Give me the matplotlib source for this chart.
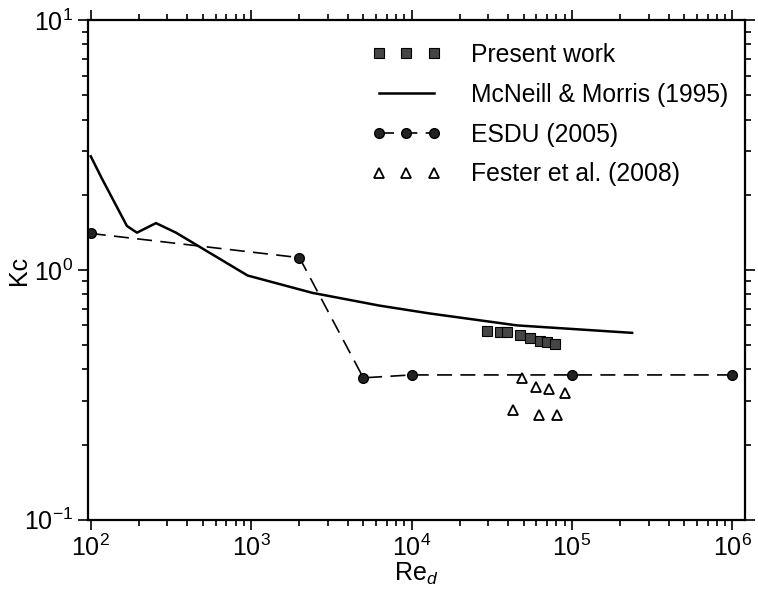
import numpy as np
import matplotlib
matplotlib.use('Agg')
import matplotlib.pyplot as plt

plt.rcParams['font.family'] = ['Liberation Sans', 'DejaVu Sans']
plt.rcParams['mathtext.fontset'] = 'custom'
plt.rcParams['mathtext.rm'] = 'Liberation Sans'
plt.rcParams['mathtext.it'] = 'Liberation Sans:italic'

# present work
re_pw = [29400, 35500, 39200, 47300, 54600, 63100, 69800, 78300]
kc_pw = [0.57, 0.565, 0.565, 0.55, 0.535, 0.52, 0.515, 0.506]

# McNeill & Morris (1995)
re_mm = [100, 117, 168, 194, 255, 340, 950, 2400, 6300, 12900, 45300, 237000]
kc_mm = [2.85, 2.33, 1.50, 1.41, 1.54, 1.41, 0.95, 0.81, 0.72, 0.67, 0.60, 0.56]

# ESDU (2005)
re_esdu = [100, 2000, 5000, 1e4, 1e5, 1e6]
kc_esdu = [1.40, 1.12, 0.37, 0.38, 0.38, 0.38]

# Fester et al. (2008)
re_fe = [49000, 59600, 71800, 90300, 42800, 62200, 80500]
kc_fe = [0.37, 0.34, 0.334, 0.322, 0.275, 0.263, 0.263]

fig = plt.figure(figsize=(7.58, 5.92), dpi=100)
ax = fig.add_axes([0.116, 0.122, 0.867, 0.844])

ax.plot(re_pw, kc_pw, ls='none', marker='s', ms=7, mfc='#454545', mec='black',
        mew=0.8, label='Present work')
ax.plot(re_mm, kc_mm, color='black', lw=1.8, label='McNeill & Morris (1995)')
ax.plot(re_esdu, kc_esdu, color='black', lw=1.2, dashes=(9, 5), marker='o',
        ms=7, mfc='#222222', mec='black', label='ESDU (2005)')
ax.plot(re_fe, kc_fe, ls='none', marker='^', ms=7, mfc='white', mec='black',
        mew=1.3, label='Fester et al. (2008)')

ax.set_xscale('log')
ax.set_yscale('log')
ax.set_xlim(96, 1.2e6)
ax.set_ylim(0.1, 10)

for s in ax.spines.values():
    s.set_linewidth(1.6)
ax.tick_params(which='both', direction='out', top=True, right=True,
               labelsize=18, width=1.2)
ax.tick_params(which='major', length=7)
ax.tick_params(which='minor', length=4)

ax.set_xlabel('Re$_{\\mathit{d}}$', fontsize=18, labelpad=0)
ax.set_ylabel('Kc', fontsize=18)
ax.yaxis.set_label_coords(-0.087, 0.5)

ax.legend(loc='upper right', bbox_to_anchor=(728 / 758, 1 - 43 / 592),
          bbox_transform=fig.transFigure, frameon=False, borderpad=0,
          borderaxespad=0, numpoints=3, fontsize=17.8, handlelength=2.8,
          labelspacing=0.64, handletextpad=1.2)

fig.savefig('out.png', dpi=100)
